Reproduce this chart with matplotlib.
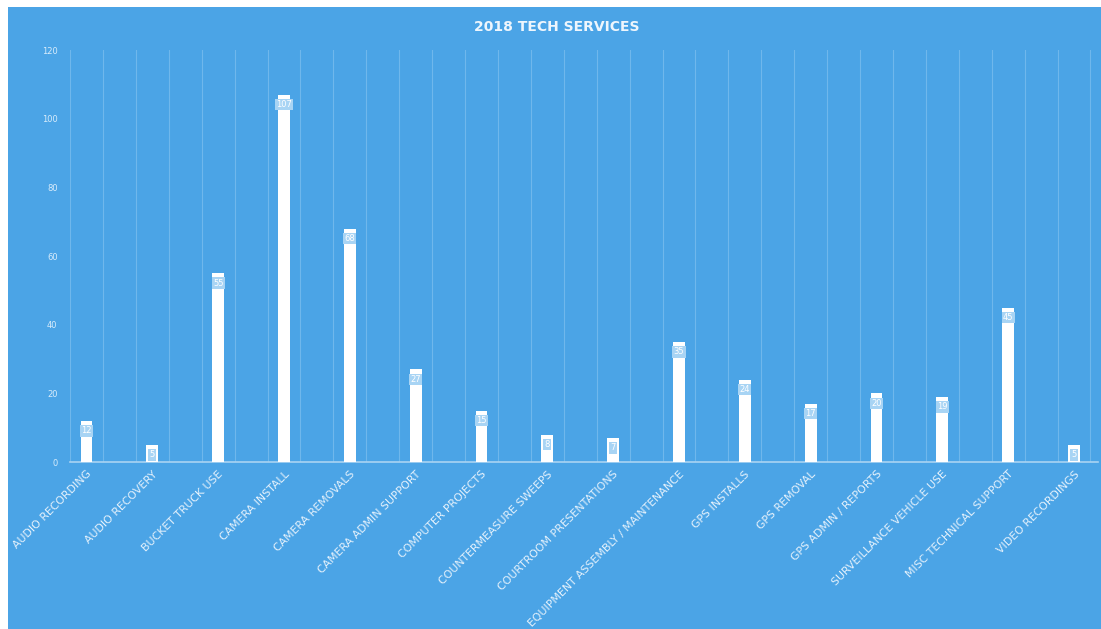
import matplotlib.pyplot as plt
import numpy as np
from matplotlib.patches import Rectangle

categories = [
    "AUDIO RECORDING", "AUDIO RECOVERY", "BUCKET TRUCK USE", "CAMERA INSTALL",
    "CAMERA REMOVALS", "CAMERA ADMIN SUPPORT", "COMPUTER PROJECTS",
    "COUNTERMEASURE SWEEPS", "COURTROOM PRESENTATIONS",
    "EQUIPMENT ASSEMBLY / MAINTENANCE", "GPS INSTALLS", "GPS REMOVAL",
    "GPS ADMIN / REPORTS", "SURVEILLANCE VEHICLE USE", "MISC TECHNICAL SUPPORT",
    "VIDEO RECORDINGS",
]
counts = [12, 5, 55, 107, 68, 27, 15, 8, 7, 35, 24, 17, 20, 19, 45, 5]
y_ticks = [0, 20, 40, 60, 80, 100, 120]

bg = "#4ba4e6"
grid_col = "#6fb7ec"
label_box = "#a8d4f4"

fig = plt.figure(figsize=(11.01, 6.29), dpi=100, facecolor="white")
# blue panel, leaving a thin white strip on the left and top
fig.patches.append(Rectangle((8 / 1101, 0), 1, 1 - 7 / 629,
                             transform=fig.transFigure, facecolor=bg,
                             edgecolor="none", zorder=-10))

ax = fig.add_axes([70 / 1101, 1 - 462 / 629, 1028 / 1101, 412 / 629])
ax.set_facecolor("none")
ax.set_zorder(1)

x = np.arange(len(categories))
ax.set_xlim(-0.25, len(categories) - 0.635)
ax.set_ylim(0, 120)

for gx in np.arange(-0.25, len(categories), 0.5):
    ax.axvline(gx, color=grid_col, lw=0.8, zorder=1)

ax.bar(x, counts, width=0.18, color="white", zorder=3)

for xi, v in zip(x, counts):
    ax.text(xi, v - 1.6, str(v), ha="center", va="top", fontsize=6,
            color="white", zorder=4,
            bbox=dict(boxstyle="square,pad=0.15", facecolor=label_box,
                      edgecolor="none"))

for s in ["top", "right", "left"]:
    ax.spines[s].set_visible(False)
ax.spines["bottom"].set_color("#a9d3f3")
ax.spines["bottom"].set_linewidth(1.2)

ax.set_yticks(y_ticks)
ax.set_yticklabels([str(t) for t in y_ticks], fontsize=6, color="#d8ecfb")
ax.tick_params(axis="y", length=0, pad=9)

ax.set_xticks(x)
ax.set_xticklabels(categories, rotation=45, ha="right", rotation_mode="anchor",
                   fontsize=7.8, color="#e6f2fc")
ax.tick_params(axis="x", length=0, pad=5)

fig.text(0.506, 0.957, "2018 TECH SERVICES", ha="center", va="center",
         fontsize=10, fontweight="bold", color="#eef6fd", zorder=2)

fig.savefig("out.png", dpi=100, facecolor="white")
